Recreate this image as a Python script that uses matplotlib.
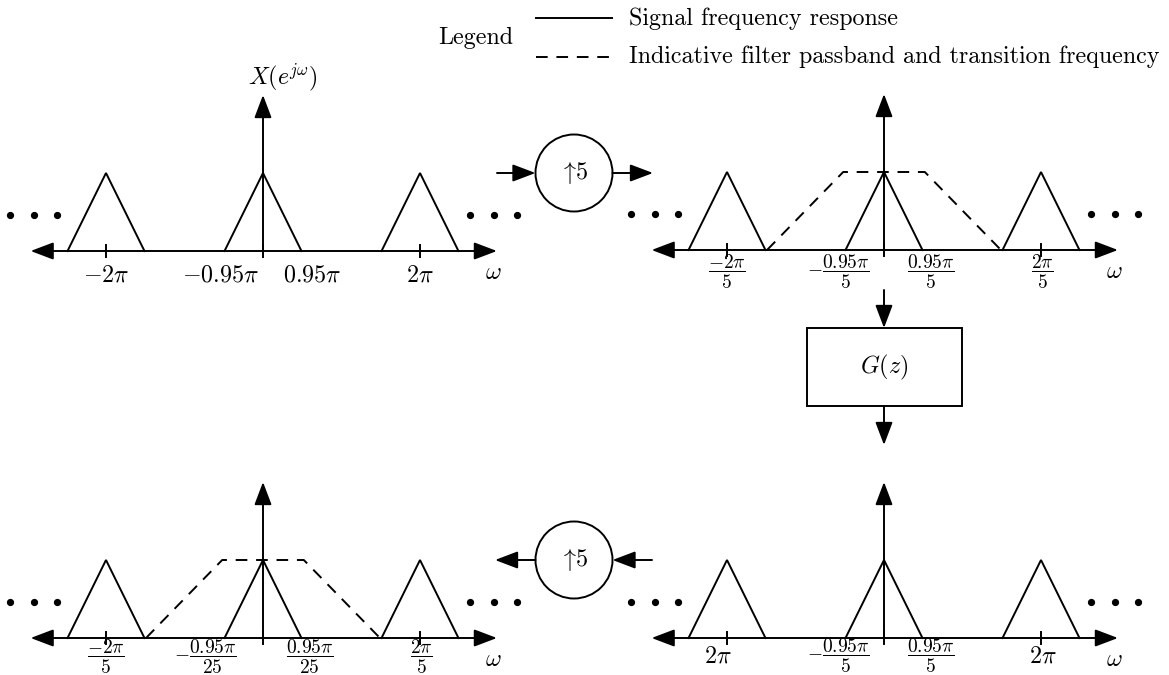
import matplotlib.pyplot as plt
from matplotlib.patches import Circle, Rectangle, FancyArrowPatch

plt.rcParams['mathtext.fontset'] = 'cm'
plt.rcParams['font.family'] = ['cmr10', 'DejaVu Serif']

# spectrum data, x in units of the replica spacing, y in units of peak height
replica_centres = [-1.0, 0.0, 1.0]
tri_halfwidth = 0.245
tri_height = 1.0
tick_pos = [-1.0, 0.0, 1.0]
filter_x = [-0.745, -0.26, 0.26, 0.745]
filter_y = [0.0, 1.0, 1.0, 0.0]
dots_x = [-1.61, -1.46, -1.31, 1.32, 1.47, 1.62]
dots_y = [0.46] * 6

# tick labels for each panel
labels_in = [r'$-2\pi$', r'$-0.95\pi$', r'$0.95\pi$', r'$2\pi$']
labels_in_x = [-1.0, -0.27, 0.31, 1.0]
labels_up = [r'$\dfrac{-2\pi}{5}$', r'$-\dfrac{0.95\pi}{5}$', r'$\dfrac{0.95\pi}{5}$', r'$\dfrac{2\pi}{5}$']
labels_up_x = [-1.0, -0.29, 0.30, 1.01]
labels_filt = [r'$2\pi$', r'$-\dfrac{0.95\pi}{5}$', r'$\dfrac{0.95\pi}{5}$', r'$2\pi$']
labels_filt_x = [-1.06, -0.29, 0.30, 1.01]
labels_out = [r'$\dfrac{-2\pi}{5}$', r'$-\dfrac{0.95\pi}{25}$', r'$\dfrac{0.95\pi}{25}$', r'$\dfrac{2\pi}{5}$']
labels_out_x = [-1.0, -0.37, 0.30, 1.01]

legend_labels = ['Signal frequency response',
                 'Indicative filter passband and transition frequency']

# layout (pixels)
W, H = 1169, 675
SX, SY = 157.0, 78.0
PAD_L, PAD_R, PAD_B, PAD_T = 262, 270, 45, 170
LW = 1.4
FS = 17.3
FS_FRAC = 14
HEAD = 'head_length=14,head_width=5.3'

fig = plt.figure(figsize=(W / 100, H / 100), dpi=100)


def arrow(ax, a, b, style='-|>'):
    p = FancyArrowPatch(a, b, arrowstyle=style + ',' + HEAD, mutation_scale=1,
                        lw=LW, color='k', shrinkA=0, shrinkB=0, clip_on=False)
    ax.add_patch(p)


def draw_panel(ox, oy, labels, label_x, show_filter, label_dy):
    ax = fig.add_axes([(ox - PAD_L) / W, (H - oy - PAD_B) / H,
                       (PAD_L + PAD_R) / W, (PAD_B + PAD_T) / H])
    ax.set_xlim(-PAD_L / SX, PAD_R / SX)
    ax.set_ylim(-PAD_B / SY, PAD_T / SY)
    ax.axis('off')

    # axes with arrowheads
    arrow(ax, (-1.48, 0), (1.49, 0), '<|-|>')
    arrow(ax, (0, 0), (0, 2.0), '-|>')
    for c in tick_pos:
        ax.plot([c, c], [-0.08, 0.08], color='k', lw=LW, clip_on=False)

    # replicas of the spectrum
    for c in replica_centres:
        ax.plot([c - tri_halfwidth, c, c + tri_halfwidth], [0, tri_height, 0],
                color='k', lw=LW, solid_joinstyle='miter', clip_on=False)
    if show_filter:
        ax.plot(filter_x, filter_y, color='k', lw=LW, linestyle=(0, (6, 4.5)),
                clip_on=False)
    ax.plot(dots_x, dots_y, 'o', color='k', ms=4.2, clip_on=False)

    for s, x in zip(labels, label_x):
        fs = FS_FRAC if 'frac' in s else FS
        ax.text(x, -label_dy / SY, s, ha='center', va='center', fontsize=fs)
    ax.text(1.47, -0.28, r'$\omega$', ha='center', va='center', fontsize=FS)
    return ax


ax_tl = draw_panel(263, 251, labels_in, labels_in_x, False, 24)
ax_tl.text(0.13, 2.23, r'$X(e^{j\omega})$', ha='center', va='center', fontsize=FS)
draw_panel(884, 250, labels_up, labels_up_x, True, 22)
draw_panel(884, 638, labels_filt, labels_filt_x, False, 18)
draw_panel(263, 638, labels_out, labels_out_x, True, 19)

# block diagram overlay in pixel coordinates
ov = fig.add_axes([0, 0, 1, 1])
ov.set_xlim(0, W)
ov.set_ylim(H, 0)
ov.axis('off')

for cy in (173, 560):
    ov.add_patch(Circle((574, cy), 38.5, fill=False, lw=LW, color='k'))
    ov.text(574, cy, r'$\uparrow\!5$', ha='center', va='center', fontsize=FS)

ov.add_patch(Rectangle((806.5, 328), 155.5, 78, fill=False, lw=LW, color='k'))
ov.text(884, 367, r'$G(z)$', ha='center', va='center', fontsize=FS)

arrow(ov, (497, 173), (535.5, 173))
arrow(ov, (612.5, 173), (653, 173))
arrow(ov, (884, 290), (884, 328))
arrow(ov, (884, 406), (884, 445))
arrow(ov, (652, 560), (612.5, 560))
arrow(ov, (535.5, 560), (495, 560))

# legend
ov.text(476, 38, 'Legend', ha='center', va='center', fontsize=FS)
ov.plot([536, 612], [18, 18], color='k', lw=LW)
ov.plot([536, 612], [57, 57], color='k', lw=LW, linestyle=(0, (6, 4.5)))
ov.text(629, 19, legend_labels[0], ha='left', va='center', fontsize=FS)
ov.text(629, 57, legend_labels[1], ha='left', va='center', fontsize=FS)

fig.savefig('out.png', dpi=100)
